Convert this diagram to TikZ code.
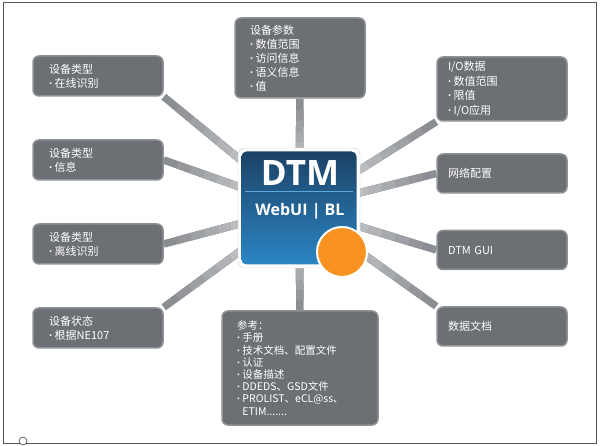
\documentclass[tikz,border=0pt]{standalone}
\usepackage{fontspec}
\setmainfont{Noto Sans CJK SC}
\newfontfamily\dtmfont{Open Sans}
\usetikzlibrary{calc,backgrounds}
\definecolor{boxfill}{HTML}{6C6F73}
\definecolor{boxline}{HTML}{8E9195}
\definecolor{spokedark}{HTML}{8A8D91}
\definecolor{spokelight}{HTML}{E2E4E6}
\definecolor{dtmtop}{HTML}{1C4266}
\definecolor{dtmbottom}{HTML}{2B86C4}
\definecolor{dtmrule}{HTML}{5FA8DC}
\definecolor{dotorange}{HTML}{F7931E}
\definecolor{framegray}{HTML}{555555}
\newcommand\bul{{\dtmfont\bfseries ·}\kern2.5pt}
\tikzset{
  infobox/.style={draw=boxline, line width=1.5pt, fill=boxfill, rounded corners=6pt,
    text=white, align=left, inner ysep=0pt, font=\fontsize{11}{14}\selectfont},
  leftbox/.style={infobox, text width=98pt, inner xsep=16pt, minimum height=40pt},
  rightbox/.style={infobox, text width=108pt, inner xsep=11pt, minimum height=39pt},
  dtmrim/.style={draw=black!20, fill=white, rounded corners=7pt, minimum width=122pt, minimum height=120pt},
  dtmcore/.style={rounded corners=5pt, top color=dtmtop, bottom color=dtmbottom, minimum width=115pt, minimum height=113pt},
  spoke/.style={line width=7.5pt}
}
\begin{document}
\begin{tikzpicture}[x=1pt,y=-1pt]
        \useasboundingbox (0,0) rectangle (600,446);
        %% Frame
        \draw[framegray, line width=1pt] (3,3) rectangle (596,443);
        \node (corner) [circle, draw, fill=white, minimum size=8pt, inner sep=0pt] at (23,441) {};
        %% Centre
        \node (dtm) [dtmrim] at (299,208) {};
        \node (core) [dtmcore] at (dtm) {};
        \node (title) [text=white, font=\dtmfont\fontsize{35}{35}\bfseries\selectfont] at (300,173) {DTM};
        \draw[dtmrule, line width=1pt] (245,192) -- (353,192);
        \node (sub) [text=white, font=\dtmfont\fontsize{16}{16}\bfseries\selectfont] at (300,211) {WebUI | BL};
        \node (dot) [circle, fill=dotorange, draw=white, line width=2pt, minimum size=50pt] at (342,252) {};
        %% Boxes
        \node (param) [infobox, text width=100pt, inner xsep=15pt, minimum height=80pt] at (300,58)
            {设备参数\\\bul 数值范围\\\bul 访问信息\\\bul 语义信息\\\bul 值};
        \node (online) [leftbox] at (98,76) {设备类型\\\bul 在线识别};
        \node (info) [leftbox] at (98,160) {设备类型\\\bul 信息};
        \node (offline) [leftbox] at (98,244) {设备类型\\\bul 离线识别};
        \node (state) [leftbox] at (98,328) {设备状态\\\bul 根据NE107};
        \node (io) [rightbox, minimum height=64pt, font=\fontsize{11}{14.5}\selectfont] at (502,89)
            {I/O数据\\\bul 数值范围\\\bul 限值\\\bul I/O应用};
        \node (net) [rightbox] at (502,173.5) {网络配置};
        \node (gui) [rightbox] at (502,250) {DTM GUI};
        \node (docs) [rightbox] at (502,326.5) {数据文档};
        \node (ref) [infobox, text width=126pt, inner xsep=15pt, minimum height=114pt,
            font=\fontsize{10.5}{12.2}\selectfont] at (300,368)
            {参考：\\\bul 手册\\\bul 技术文档、配置文件\\\bul 认证\\\bul 设备描述\\\bul DDEDS、GSD文件\\\bul PROLIST、eCL@ss、\\\phantom{\bul}ETIM.......};
        %% Spokes
        \begin{scope}[on background layer]
            \foreach \b/\a in {param/south, online/south east, info/east, offline/east, state/north east,
                               io/south west, net/west, gui/west, docs/north west, ref/north}{
                \foreach \i in {0,...,9}{
                    \pgfmathtruncatemacro\p{\i*11}
                    \pgfmathsetmacro\t{\i/10}
                    \draw[spoke, spokelight!\p!spokedark] ($(\b.\a)!\t!(dtm.center)$) -- (dtm.center);
                }
            }
        \end{scope}
    \end{tikzpicture}
\end{document}
